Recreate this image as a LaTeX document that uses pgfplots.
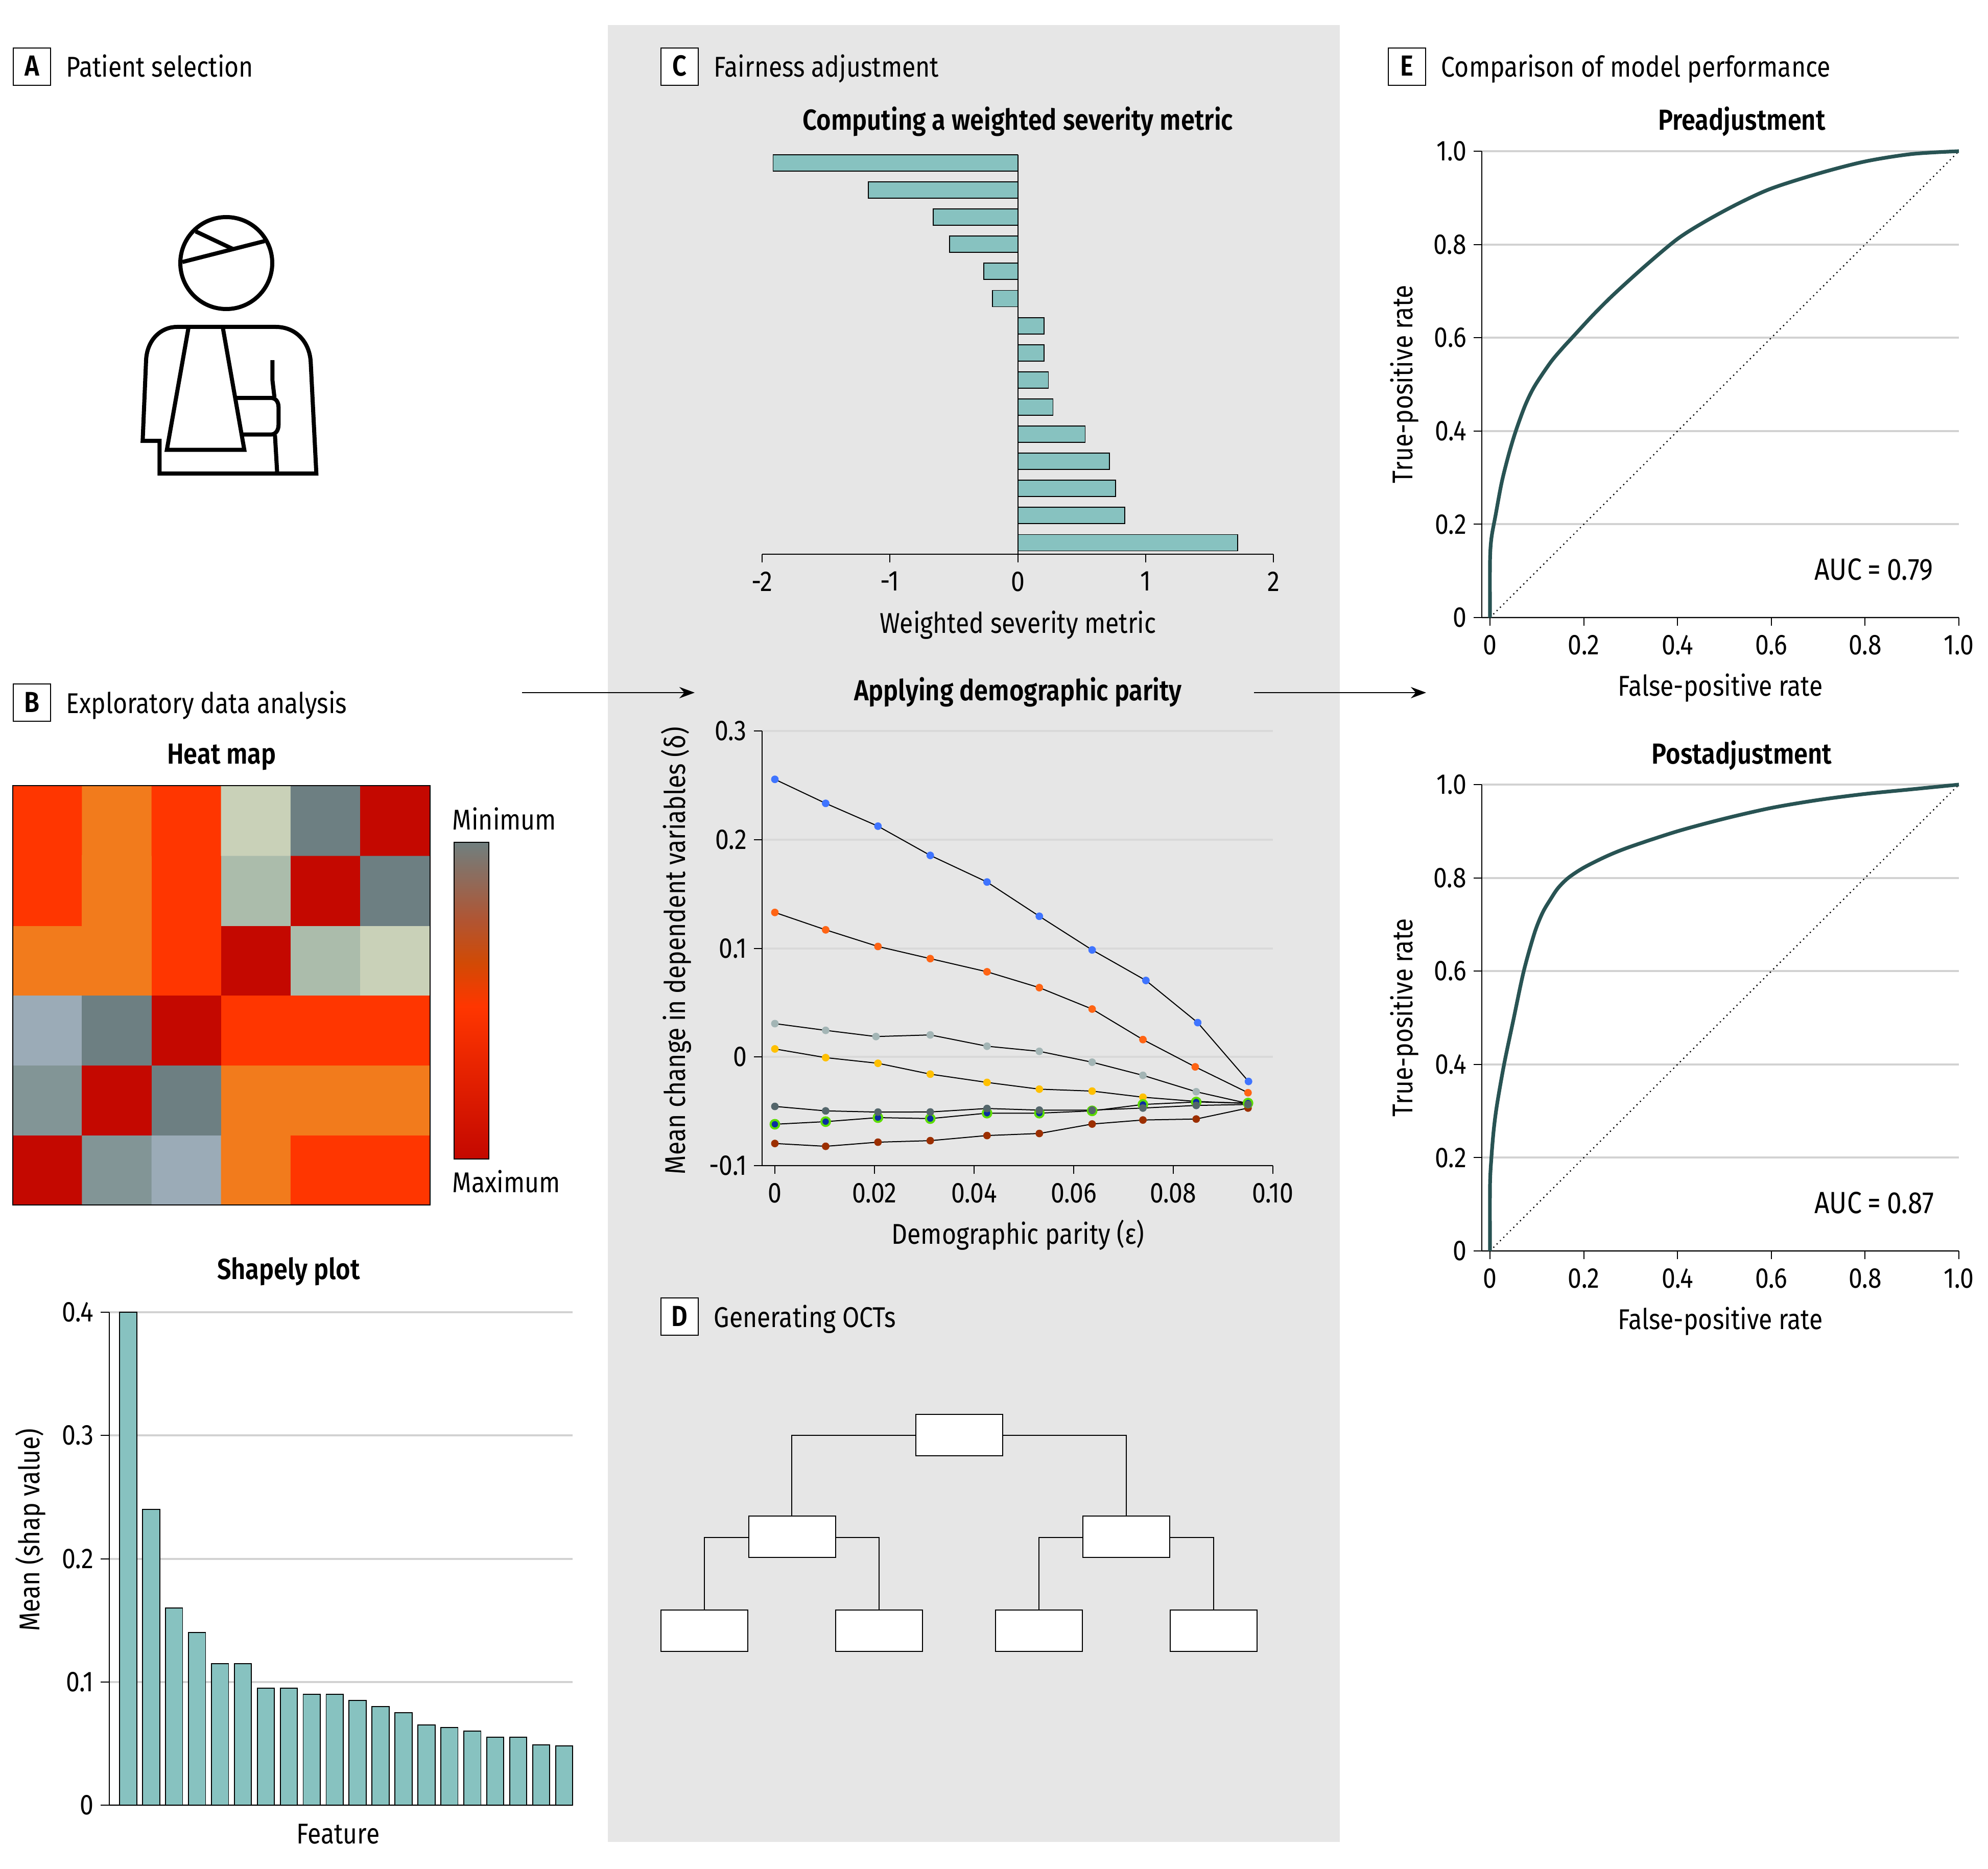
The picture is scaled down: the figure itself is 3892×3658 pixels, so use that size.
\documentclass[border=0pt]{standalone}
\usepackage{fontspec}
\setmainfont[FakeStretch=0.86,BoldFont={Fira Sans SemiBold}]{Fira Sans}
\usepackage{pgfplots}
\pgfplotsset{compat=1.18}
\usetikzlibrary{arrows.meta}
\definecolor{teal1}{HTML}{87C2C0}
\definecolor{panelgray}{HTML}{E6E6E6}
\definecolor{rocgreen}{HTML}{285353}
\definecolor{gridw}{HTML}{D2D2D2}
\definecolor{gridg}{HTML}{D9D9D9}
\definecolor{s1}{RGB}{63,116,255}
\definecolor{s2}{RGB}{255,100,20}
\definecolor{s3}{RGB}{163,181,181}
\definecolor{s4}{RGB}{255,192,0}
\definecolor{s5}{RGB}{156,47,0}
\definecolor{s6}{RGB}{10,45,160}
\definecolor{s6r}{RGB}{92,220,0}
\definecolor{s7}{RGB}{84,102,107}
\newcommand{\lab}{\fontsize{14}{16}\selectfont}
\newcommand{\ttl}{\fontsize{14.2}{16}\selectfont\bfseries}

\pgfplotsset{
  base/.style={
    scale only axis, clip=false, axis lines*=left, tick align=outside,
    major tick length=4pt, axis line style={line width=0.5pt},
    tick style={black, line width=0.5pt},
    tick label style={font=\lab},
    xticklabel style={yshift=-1pt},
    ymajorgrids,
  },
  roc/.style={
    base, width=233.5pt, height=228.25pt,
    xmin=-0.01743, xmax=1, ymin=0, ymax=1,
    xtick={0,0.2,0.4,0.6,0.8,1}, xticklabels={0,0.2,0.4,0.6,0.8,1.0},
    ytick={0,0.2,0.4,0.6,0.8,1}, yticklabels={0,0.2,0.4,0.6,0.8,1.0},
    grid style={gridw, line width=1pt},
  },
  curve/.style={rocgreen, line width=1.8pt, smooth, tension=0.5},
  chance/.style={black, line width=0.6pt, dash pattern=on 0.6pt off 1.7pt},
  dot/.style={mark options={draw=#1, fill=#1, line width=0.2pt}},
}

\begin{document}
\begin{tikzpicture}[x=0.25pt,y=-0.25pt]
\useasboundingbox (0,0) rectangle (3892,3658);
\fill[white] (0,0) rectangle (3892,3658);
\fill[panelgray] (1190,49) rectangle (2623,3606);

% panel letters
\foreach \l/\xa/\ya/\t in {A/26/94/Patient selection, B/26/1339/Exploratory data analysis, C/1294/94/Fairness adjustment, D/1294/2541/Generating OCTs, E/2718/94/Comparison of model performance}{
  \draw[fill=white, line width=0.5pt] (\xa,\ya) rectangle ++(73,73);
  \node[font=\ttl, inner sep=0pt, anchor=base] at (\xa+36.5,\ya+55) {\l};
  \node[font=\lab, anchor=base west, inner sep=0pt] at (\xa+103,\ya+57) {\t};
}

% patient icon
\begin{scope}[line width=2pt, miter limit=4]
  \draw (443,515) circle (90);
  \draw (357,513) -- (518,472);
  \draw (383,453) -- (455,487);
  \draw (312.3,927) -- (312.3,863) -- (279.3,863) -- (286,705)
     .. controls (288,665) and (315,640) .. (346.7,640) -- (540,640)
     .. controls (578,640) and (606,668) .. (608.3,709) -- (619.3,927) -- cycle;
  \draw (369.3,640) -- (326.7,880.6) -- (478.3,880.6) -- (436,640);
  \draw (533.3,705) -- (533.3,743.6) -- (537.3,778);
  \draw (463,779) -- (530,779) .. controls (540,779) and (545.3,787) .. (545.3,797)
     -- (545.3,831.6) .. controls (545.3,842) and (540,850.7) .. (530,850.7) -- (475,850.7);
  \draw (538.3,851.5) -- (542.7,927);
\end{scope}

% flow arrows
\draw[line width=0.7pt, -{Stealth[length=7.5pt,width=5.5pt]}] (1022,1356) -- (1360,1356);
\draw[line width=0.7pt, -{Stealth[length=7.5pt,width=5.5pt]}] (2455,1356) -- (2792,1356);

% heat map
\node[font=\ttl, anchor=base] at (434,1495) {Heat map};
\begin{axis}[
    at={(6.25pt,-589.75pt)}, anchor=south west, scale only axis, width=204.25pt, height=205.25pt,
    xmin=0.5, xmax=6.5, ymin=0.5, ymax=6.5, xtick=\empty, ytick=\empty,
    axis line style={line width=0.5pt}, axis on top,
    colormap={heat}{rgb255=(196,8,0) rgb255=(255,54,0) rgb255=(242,123,28) rgb255=(201,209,184)
                    rgb255=(171,188,171) rgb255=(109,127,130) rgb255=(155,171,183) rgb255=(130,149,150)},
    colormap access=piecewise constant, point meta min=-0.5, point meta max=7.5,
  ]
  \addplot[matrix plot*, mesh/cols=6, point meta=explicit] table[meta=c] {
    x y c
    1 1 0
    2 1 7
    3 1 6
    4 1 2
    5 1 1
    6 1 1
    1 2 7
    2 2 0
    3 2 5
    4 2 2
    5 2 2
    6 2 2
    1 3 6
    2 3 5
    3 3 0
    4 3 1
    5 3 1
    6 3 1
    1 4 2
    2 4 2
    3 4 1
    4 4 0
    5 4 4
    6 4 3
    1 5 1
    2 5 2
    3 5 1
    4 5 4
    5 5 0
    6 5 5
    1 6 1
    2 6 2
    3 6 1
    4 6 3
    5 6 5
    6 6 0
  };
\end{axis}

% colour scale
\shade[top color={rgb,255:red,112;green,127;blue,127}, bottom color={rgb,255:red,176;green,85;blue,51}] (888.5,1649) rectangle (957,1800);
\shade[top color={rgb,255:red,176;green,85;blue,51}, bottom color={rgb,255:red,209;green,74;blue,5}] (888.5,1800) rectangle (957,1885);
\shade[top color={rgb,255:red,209;green,74;blue,5}, bottom color={rgb,255:red,255;green,54;blue,0}] (888.5,1885) rectangle (957,1970);
\shade[top color={rgb,255:red,255;green,54;blue,0}, bottom color={rgb,255:red,196;green,8;blue,0}] (888.5,1970) rectangle (957,2269);
\draw[line width=0.5pt] (888.5,1649) rectangle (957,2269);
\node[font=\lab, anchor=base west, inner sep=0pt] at (885,1624) {Minimum};
\node[font=\lab, anchor=base west, inner sep=0pt] at (885,2334) {Maximum};

% Shapely plot
\node[font=\ttl, anchor=base] at (565,2504) {Shapely plot};
\node[font=\lab, anchor=base] at (662,3609) {Feature};
\node[font=\lab, rotate=90, anchor=base] at (78,2995) {Mean (shap value)};
\begin{axis}[
    base, at={(53.375pt,-883.5pt)}, anchor=south west, width=226.9pt, height=241.25pt,
    ybar, bar width=8.375pt, bar shift=0pt,
    xmin=0.165, xmax=20.373, ymin=0, ymax=0.4,
    xtick=\empty, ytick={0,0.1,0.2,0.3,0.4}, yticklabels={0,0.1,0.2,0.3,0.4},
    grid style={gridw, line width=1pt},
  ]
  \addplot[fill=teal1, draw=black, line width=0.45pt] coordinates {
    (1,0.4) (2,0.24) (3,0.16) (4,0.14) (5,0.115) (6,0.115) (7,0.095) (8,0.095) (9,0.09) (10,0.09)
    (11,0.085) (12,0.08) (13,0.075) (14,0.065) (15,0.063) (16,0.06) (17,0.055) (18,0.055) (19,0.049) (20,0.048)};
\end{axis}

% severity metric bars
\node[font=\ttl, anchor=base] at (1993,255) {Computing a weighted severity metric};
\node[font=\lab, anchor=base] at (1993,1239) {Weighted severity metric};
\begin{axis}[
    scale only axis, clip=false, at={(373pt,-271.25pt)}, anchor=south west, width=250.25pt, height=195.5pt,
    axis x line*=bottom, axis y line=none, tick align=outside, major tick length=4pt,
    axis line style={line width=0.5pt}, tick style={black, line width=0.5pt}, tick label style={font=\lab},
    xticklabel style={yshift=-1pt},
    xbar, bar width=8pt, bar shift=0pt,
    xmin=-2, xmax=2, ymin=0.576, ymax=15.3,
    xtick={-2,-1,0,1,2}, xticklabels={-2,-1,0,1,2},
  ]
  \addplot[fill=teal1, draw=black, line width=0.45pt] coordinates {
    (-1.914,15) (-1.17,14) (-0.662,13) (-0.532,12) (-0.265,11) (-0.197,10) (0.205,9) (0.205,8)
    (0.24,7) (0.276,6) (0.527,5) (0.716,4) (0.765,3) (0.838,2) (1.72,1)};
  \draw[line width=0.5pt] (axis cs:0,0.576) -- (axis cs:0,15.3);
\end{axis}

% demographic parity lines
\node[font=\ttl, anchor=base] at (1993,1371) {Applying demographic parity};
\node[font=\lab, anchor=base] at (1993,2435) {Demographic parity (ε)};
\node[font=\lab, rotate=90, anchor=base] at (1341,1861) {Mean change in dependent variables (δ)};
\begin{axis}[
    base, at={(373pt,-570.5pt)}, anchor=south west, width=250pt, height=212.75pt,
    xmin=-0.00256, xmax=0.1, ymin=-0.1, ymax=0.3,
    xtick={0,0.02,0.04,0.06,0.08,0.1}, xticklabels={0,0.02,0.04,0.06,0.08,0.10},
    ytick={-0.1,0,0.1,0.2,0.3}, yticklabels={-0.1,0,0.1,0.2,0.3},
    grid style={gridg, line width=1pt},
    every axis plot/.append style={black, line width=0.5pt, mark=*, mark size=1.75pt},
  ]
  \addplot[dot=s1] coordinates {
    (0,0.2555) (0.0102,0.2334) (0.0207,0.2124) (0.0312,0.1855) (0.0426,0.161) (0.0531,0.1295) (0.0637,0.0985) (0.0745,0.0704) (0.0849,0.0316) (0.0951,-0.0225)};
  \addplot[dot=s2] coordinates {
    (0,0.133) (0.0102,0.117) (0.0207,0.1017) (0.0312,0.0905) (0.0426,0.0784) (0.0531,0.0638) (0.0637,0.0441) (0.0739,0.016) (0.0844,-0.0091) (0.0950,-0.0329)};
  \addplot[dot=s3] coordinates {
    (0,0.0307) (0.0102,0.0245) (0.0203,0.0188) (0.0312,0.0203) (0.0426,0.0099) (0.0531,0.0052) (0.0637,-0.0048) (0.0739,-0.0169) (0.0846,-0.032) (0.0950,-0.0428)};
  \addplot[dot=s4] coordinates {
    (0,0.0074) (0.0102,-0.0006) (0.0207,-0.0058) (0.0312,-0.0158) (0.0426,-0.0234) (0.0531,-0.0296) (0.0637,-0.0314) (0.0739,-0.037) (0.0846,-0.0409) (0.0950,-0.0428)};
  \addplot[dot=s5] coordinates {
    (0,-0.0796) (0.0102,-0.0822) (0.0207,-0.0784) (0.0312,-0.077) (0.0426,-0.0723) (0.0531,-0.0704) (0.0637,-0.0617) (0.0739,-0.058) (0.0846,-0.0571) (0.0950,-0.047)};
  \addplot[mark size=2.1pt, mark options={draw=s6r, line width=1pt, fill=s6}] coordinates {
    (0,-0.0619) (0.0102,-0.0595) (0.0207,-0.0558) (0.0312,-0.0567) (0.0426,-0.0517) (0.0531,-0.0517) (0.0637,-0.0496) (0.0739,-0.0437) (0.0846,-0.0414) (0.0950,-0.0424)};
  \addplot[dot=s7] coordinates {
    (0,-0.0455) (0.0102,-0.0496) (0.0207,-0.0507) (0.0312,-0.0506) (0.0426,-0.0474) (0.0531,-0.0489) (0.0637,-0.0489) (0.0739,-0.047) (0.0846,-0.0446) (0.0950,-0.0437)};
\end{axis}

% optimal classification tree
\begin{scope}[line width=0.5pt]
  \draw (1793,2809.5) -| (1550,2968);
  \draw (1962,2809.5) -| (2205,2968);
  \draw (1465.5,3010) -| (1378.5,3152);
  \draw (1635,3010) -| (1721,3152);
  \draw (2120,3010) -| (2033.5,3152);
  \draw (2290,3010) -| (2376,3152);
  \foreach \xa/\ya in {1793/2769, 1465.5/2968, 2120/2968, 1294/3152, 1636/3152, 1949/3152, 2290.5/3152}
    \draw[fill=white] (\xa,\ya) rectangle ++(170,80.5);
\end{scope}

% ROC curves
\node[font=\ttl, anchor=base] at (3410,255) {Preadjustment};
\node[font=\lab, anchor=base] at (3368,1362) {False-positive rate};
\node[font=\lab, rotate=90, anchor=base] at (2765,752) {True-positive rate};
\node[font=\fontsize{15}{16}\selectfont, anchor=base west, inner sep=0pt] at (3552,1135) {AUC\hspace{0.2em}=\hspace{0.2em}0.79};
\begin{axis}[roc, at={(725.25pt,-302.25pt)}, anchor=south west]
  \addplot[chance] coordinates {(0,0) (1,1)};
  \addplot[curve] coordinates {(0,0) (0,0.12) (0.003,0.17) (0.012,0.22) (0.025,0.29) (0.04,0.35) (0.055,0.40)
    (0.075,0.455) (0.095,0.496) (0.129,0.547) (0.154,0.577) (0.175,0.6) (0.22,0.649) (0.264,0.693) (0.331,0.754)
    (0.4,0.812) (0.46,0.85) (0.53,0.888) (0.6,0.92) (0.7,0.952) (0.8,0.978) (0.9,0.994) (1,1)};
\end{axis}

\node[font=\ttl, anchor=base] at (3410,1495) {Postadjustment};
\node[font=\lab, anchor=base] at (3368,2602) {False-positive rate};
\node[font=\lab, rotate=90, anchor=base] at (2765,1992) {True-positive rate};
\node[font=\fontsize{15}{16}\selectfont, anchor=base west, inner sep=0pt] at (3552,2375) {AUC\hspace{0.2em}=\hspace{0.2em}0.87};
\begin{axis}[roc, at={(725.25pt,-612.25pt)}, anchor=south west]
  \addplot[chance] coordinates {(0,0) (1,1)};
  \addplot[curve] coordinates {(0,0) (0,0.14) (0.003,0.2) (0.008,0.26) (0.015,0.314) (0.03,0.40) (0.05,0.496)
    (0.072,0.6) (0.095,0.682) (0.112,0.725) (0.129,0.754) (0.145,0.778) (0.167,0.8) (0.2,0.822) (0.25,0.847) (0.3,0.867) (0.4,0.9)
    (0.5,0.927) (0.6,0.95) (0.7,0.967) (0.8,0.98) (0.9,0.99) (1,1)};
\end{axis}
\end{tikzpicture}
\end{document}
